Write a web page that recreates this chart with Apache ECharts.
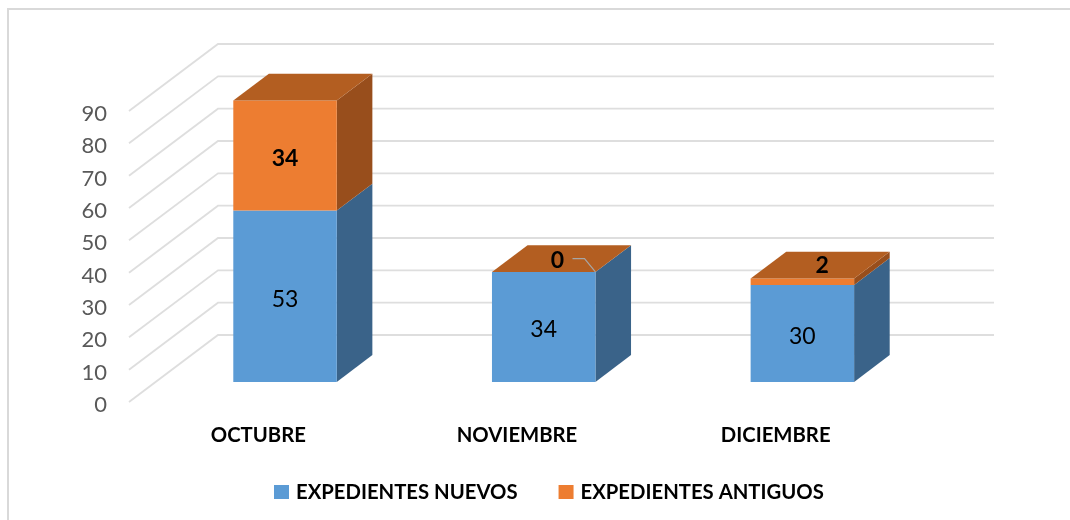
<!DOCTYPE html>
<html>
<head>
<meta charset="utf-8">
<style>html,body{margin:0;padding:0;background:#fff}#c{width:1070px;height:520px}</style>
<script src="https://cdn.jsdelivr.net/npm/echarts@6/dist/echarts.min.js"></script>
</head>
<body>
<div id="c"></div>
<script>
const categories = ['OCTUBRE', 'NOVIEMBRE', 'DICIEMBRE'];
const nuevos = [53, 34, 30];
const antiguos = [34, 0, 2];
const yTicks = [0, 10, 20, 30, 40, 50, 60, 70, 80, 90];

const FONT = 'Lato';
const WALL = { dx: 89, dy: -67 };          // depth of the floor, px
const NEAR = 0.3, FAR = 0.7;               // bar front/back planes as a share of the depth
const BAR_W = 0.4;                         // bar width as a share of a category band

const chart = echarts.init(document.getElementById('c'), null, { renderer: 'canvas' });

function renderWall(params, api) {
  const p = api.coord([0, api.value(0)]);
  const size = api.size([1, 0])[0];
  const x0 = p[0] - size / 2;
  const x1 = x0 + size * categories.length;
  return {
    type: 'polyline',
    shape: { points: [[x0, p[1]], [x0 + WALL.dx, p[1] + WALL.dy], [x1 + WALL.dx, p[1] + WALL.dy]] },
    style: { fill: null, stroke: '#dedede', lineWidth: 1.8 },
    silent: true
  };
}

function makeBarRenderer(colors, isTop) {
  return function (params, api) {
    const cat = api.value(0), from = api.value(1), to = api.value(2);
    const band = api.size([1, 0])[0];
    const base = api.coord([cat, from]), top = api.coord([cat, to]);
    const w = band * BAR_W;
    const xL = base[0] - w / 2 + WALL.dx * NEAR, xR = xL + w;
    const off = WALL.dy * NEAR;
    const yB = base[1] + off, yT = top[1] + off;
    const ddx = WALL.dx * (FAR - NEAR), ddy = WALL.dy * (FAR - NEAR);
    const children = [
      { type: 'polygon', shape: { points: [[xR, yB], [xR + ddx, yB + ddy], [xR + ddx, yT + ddy], [xR, yT]] }, style: { fill: colors.side } },
      { type: 'rect', shape: { x: xL, y: yT, width: w, height: yB - yT }, style: { fill: colors.front } }
    ];
    if (isTop) {
      children.push({ type: 'polygon', shape: { points: [[xL, yT], [xR, yT], [xR + ddx, yT + ddy], [xL + ddx, yT + ddy]] }, style: { fill: colors.top } });
    }
    const value = to - from;
    const cx = (xL + xR) / 2;
    const fits = (yB - yT) > 30;
    let lx = cx, ly = (yT + yB) / 2 + 3;
    if (!fits) {
      lx = cx + ddx / 2 + (value === 0 ? -4 : 2);
      ly = yT + ddy / 2 + (value === 0 ? 2 : 1);
    }
    if (value === 0) {
      children.push({
        type: 'polyline',
        shape: { points: [[lx + 15, ly - 2], [lx + 27, ly - 2], [xR, yT]] },
        style: { fill: null, stroke: '#a6a6a6', lineWidth: 1.2 }
      });
    }
    children.push({
      type: 'text',
      style: {
        x: lx, y: ly, text: String(value), align: 'center', verticalAlign: 'middle',
        fill: '#000', font: (colors.bold ? 'bold ' : '') + '23px ' + FONT
      }
    });
    return { type: 'group', children };
  };
}

const blue = { front: '#5b9bd5', side: '#3a6389', top: '#3a6389', bold: false };
const orange = { front: '#ed7d31', side: '#984e1c', top: '#b35e21', bold: true };

chart.setOption({
  animation: false,
  backgroundColor: '#fff',
  graphic: [{
    type: 'polyline', silent: true, z: -1,
    shape: { points: [[8, 520], [8, 9], [1070, 9]] },
    style: { fill: null, stroke: '#d9d9d9', lineWidth: 2 }
  }],
  grid: { left: 129, top: 111, width: 776, height: 291, containLabel: false },
  xAxis: {
    type: 'category', data: categories,
    axisLine: { show: false }, axisTick: { show: false }, splitLine: { show: false },
    axisLabel: { color: '#000', fontFamily: FONT, fontWeight: 'bold', fontSize: 20.3, margin: 23 }
  },
  yAxis: {
    type: 'value', min: 0, max: 90, interval: 10,
    axisLine: { show: false }, axisTick: { show: false }, splitLine: { show: false },
    axisLabel: { color: '#595959', fontFamily: FONT, fontSize: 22, margin: 22, verticalAlign: 'top', lineHeight: 6 }
  },
  legend: {
    left: 269, top: 477, itemWidth: 15, itemHeight: 14, itemGap: 41, icon: 'rect',
    data: ['EXPEDIENTES NUEVOS', 'EXPEDIENTES ANTIGUOS'],
    textStyle: { color: '#000', fontFamily: FONT, fontWeight: 'bold', fontSize: 20.3, padding: [0, 0, 0, 2] }
  },
  series: [
    { type: 'custom', name: 'wall', z: 1, silent: true, renderItem: renderWall,
      encode: { y: 0 }, coordinateSystem: 'cartesian2d', data: yTicks.map(t => [t]), clip: false },
    { type: 'custom', name: 'EXPEDIENTES NUEVOS', z: 2, renderItem: makeBarRenderer(blue, false),
      itemStyle: { color: blue.front }, encode: { x: 0, y: [1, 2] }, clip: false,
      data: categories.map((c, i) => [i, 0, nuevos[i]]) },
    { type: 'custom', name: 'EXPEDIENTES ANTIGUOS', z: 3, renderItem: makeBarRenderer(orange, true),
      itemStyle: { color: orange.front }, encode: { x: 0, y: [1, 2] }, clip: false,
      data: categories.map((c, i) => [i, nuevos[i], nuevos[i] + antiguos[i]]) }
  ]
});
</script>
</body>
</html>
